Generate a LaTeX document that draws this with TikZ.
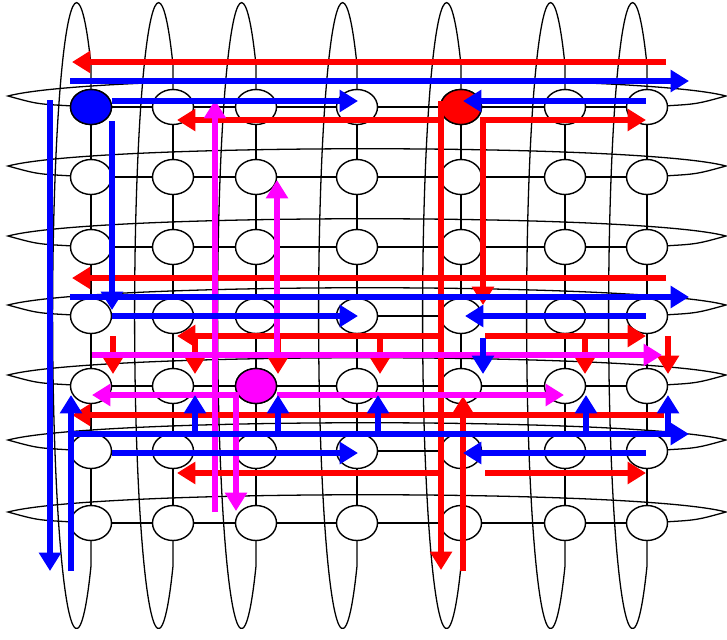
\documentclass[tikz,border=0pt]{standalone}
\usetikzlibrary{arrows.meta,shapes.geometric}
\definecolor{pred}{RGB}{255,0,0}
\definecolor{pblue}{RGB}{0,0,255}
\definecolor{pmag}{RGB}{255,0,255}
\tikzset{
	pe/.style={draw,ellipse,fill=white,minimum width=1.23cm,minimum height=1.05cm,inner sep=0pt,line width=1.2pt},
	route/.style={line width=0.18cm,->},
	route2/.style={line width=0.18cm,<->},
	ring/.style={line width=1.1pt},
}
\begin{document}
\begin{tikzpicture}[x=0.03cm,y=-0.03cm,>={Triangle[length=0.55cm,width=0.64cm]}]
	\useasboundingbox (0,0) rectangle (727,639);
	\foreach \xx [count=\j] in {91,173,256,357,461,565,647}
		\foreach \yy [count=\i] in {107,177,247,316,386,451,523}
			\node[pe,draw=none,fill=none] (n-\i-\j) at (\xx,\yy) {};
	\foreach \xx [count=\j] in {91,173,256,357,461,565,647}
		\draw[ring] (n-7-\j) -- (\xx,566) arc[start angle=53.13,end angle=306.87,x radius=24,y radius=313] -- (n-1-\j);
	\foreach \yy [count=\i] in {107,177,247,316,386,451,523}
		\draw[ring] (n-\i-7) .. controls (697,\yy-3) .. (726,\yy-11) .. controls (640,\yy-34) and (95,\yy-34) .. (8,\yy-11) .. controls (37,\yy-3) .. (n-\i-1);
	\foreach \i in {1,2,3,4,5,6,7}
		\foreach \j/\k in {1/2,2/3,3/4,4/5,5/6,6/7} {
			\draw[ring] (n-\i-\j) -- (n-\i-\k);
			\draw[ring] (n-\j-\i) -- (n-\k-\i);
		}
	\foreach \i in {1,2,3,4,5,6,7}
		\foreach \j in {1,2,3,4,5,6,7}
			\node[pe] at (n-\i-\j) {};
	\node[pe,fill=pblue] (src-b) at (n-1-1) {};
	\node[pe,fill=pred] (src-r) at (n-1-5) {};
	\node[pe,fill=pmag] (src-m) at (n-5-3) {};
	\draw[route,pred] (666,62) -- (72,62);
	\draw[route,pred] (441,101) -- (441,570);
	\draw[route,pred] (441,120) -- (177,120);
	\draw[route2,pred] (646,120) -- (483,120) -- (483,305);
	\draw[route,pred] (666,278) -- (72,278);
	\draw[route,pred] (441,336) -- (177,336);
	\draw[route,pred] (485,336) -- (646,336);
	\foreach \xx in {113,195,278,380,585,668}
		\draw[route,pred] (\xx,336) -- (\xx,374);
	\draw[route,pred] (664,415) -- (72,415);
	\draw[route,pred] (463,571) -- (463,396);
	\draw[route,pred] (441,473) -- (177,473);
	\draw[route,pred] (485,473) -- (646,473);
	\draw[route,pmag] (215,512) -- (215,100);
	\draw[route,pmag] (277,355) -- (277,180);
	\draw[route,pmag] (92,355) -- (662,355);
	\draw[route2,pmag] (92,395) -- (236,395) -- (236,511);
	\draw[route,pmag] (277,395) -- (564,395);
	\draw[route,pblue] (50,100) -- (50,571);
	\draw[route,pblue] (70,81) -- (689,81);
	\draw[route,pblue] (112,101) -- (358,101);
	\draw[route,pblue] (112,121) -- (112,310);
	\draw[route,pblue] (70,297) -- (689,297);
	\draw[route,pblue] (112,316) -- (358,316);
	\draw[route,pblue] (646,101) -- (463,101);
	\draw[route,pblue] (646,316) -- (465,316);
	\draw[route,pblue] (71,571) -- (71,395);
	\draw[route,pblue] (71,434) -- (689,434);
	\draw[route,pblue] (112,453) -- (358,453);
	\draw[route,pblue] (646,453) -- (463,453);
	\foreach \xx in {195,278,378,586,668}
		\draw[route,pblue] (\xx,434) -- (\xx,395);
	\draw[route,pblue] (483,338) -- (483,374);
\end{tikzpicture}
\end{document}
